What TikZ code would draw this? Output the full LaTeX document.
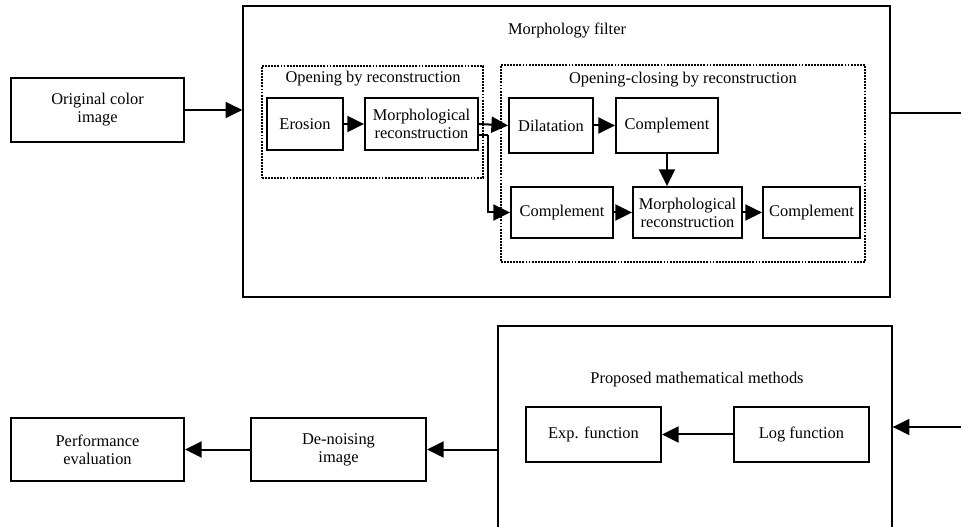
\documentclass[tikz,border=0pt]{standalone}
\usepackage{fontspec}
\setmainfont{Liberation Serif}
\usepackage{tikz}
\usetikzlibrary{arrows.meta,positioning}
\definecolor{lineBlack}{RGB}{0, 0, 0}

\tikzset{
    procBox/.style={draw=lineBlack, line width=1.4pt, inner sep=0pt, align=center},
    outerFrame/.style={draw=lineBlack, line width=1pt, inner sep=0pt},
    groupFrame/.style={draw=lineBlack, line width=1.5pt, dash pattern=on 1.4pt off 0.9pt, inner sep=0pt},
    frameTitle/.style={inner sep=0pt},
    flowArrow/.style={draw=lineBlack, line width=1.5pt, -{Triangle[length=12.5pt, width=12pt]}},
    flowLine/.style={draw=lineBlack, line width=1.5pt}
}

\begin{document}
\begin{tikzpicture}[x=0.75pt, y=-0.75pt, font=\fontsize{12.3pt}{13.5pt}\selectfont]
    \useasboundingbox (0,0) rectangle (961,527);

    % outer frames
    \node[outerFrame, minimum width=485.25pt, minimum height=218.25pt] (morph) at (566.5,151.5) {};
    \node[frameTitle] (morphTitle) at (567,31) {Morphology filter};
    \node[outerFrame, minimum width=295.5pt, minimum height=156pt] (proposed) at (695,430) {};
    \node[frameTitle] (proposedTitle) at (697,380) {Proposed mathematical methods};

    % dotted groups
    \node[groupFrame, minimum width=165.75pt, minimum height=84pt] (openGroup) at (372.5,122) {};
    \node[frameTitle] (openTitle) at (373,79) {Opening by reconstruction};
    \node[groupFrame, minimum width=273pt, minimum height=147.75pt] (ocGroup) at (683,163.5) {};
    \node[frameTitle] (ocTitle) at (683,80) {Opening-closing by reconstruction};

    % blocks
    \node[procBox, minimum width=129.75pt, minimum height=48pt] (orig) at (97.5,110) {Original color\\image};
    \node[procBox, minimum width=57pt, minimum height=39pt] (erosion) at (305,124) {Erosion};
    \node[procBox, minimum width=84.75pt, minimum height=39pt] (mrecA) at (421.5,124) {Morphological\\reconstruction};
    \node[procBox, minimum width=63pt, minimum height=41.25pt] (dilat) at (551,125.5) {Dilatation};
    \node[procBox, minimum width=76.5pt, minimum height=41.25pt] (compA) at (667,125.5) {Complement};
    \node[procBox, minimum width=76.5pt, minimum height=38.25pt] (compB) at (562,212.5) {Complement};
    \node[procBox, minimum width=81.75pt, minimum height=38.25pt] (mrecB) at (687.5,212.5) {Morphological\\reconstruction};
    \node[procBox, minimum width=72.75pt, minimum height=38.25pt] (compC) at (811.5,212.5) {Complement};
    \node[procBox, minimum width=101.25pt, minimum height=41.25pt] (expf) at (593.5,434.5) {Exp. function};
    \node[procBox, minimum width=101.25pt, minimum height=41.25pt] (logf) at (801.5,434.5) {Log function};
    \node[procBox, minimum width=131.25pt, minimum height=47.25pt] (denoise) at (338.5,449.5) {De-noising\\image};
    \node[procBox, minimum width=129.75pt, minimum height=47.25pt] (perf) at (97.5,449.5) {Performance\\evaluation};

    % free ends and bends
    \coordinate (branch) at (488,135);
    \coordinate (outRight) at (961,113);
    \coordinate (inRight) at (961,427);

    % connectors
    \draw[flowArrow] (orig) -- (orig -| morph.west);
    \draw[flowArrow] (erosion) -- (mrecA);
    \draw[flowArrow] (mrecA.east) -- (dilat.west);
    \draw[flowLine] (branch -| mrecA.east) -- (branch);
    \draw[flowArrow] (branch) |- (compB.west);
    \draw[flowArrow] (dilat) -- (compA);
    \draw[flowArrow] (compA.south) -- (compA.south |- mrecB.north);
    \draw[flowArrow] (compB) -- (mrecB);
    \draw[flowArrow] (mrecB) -- (compC);
    \draw[flowLine] (outRight -| morph.east) -- (outRight);
    \draw[flowArrow] (inRight) -- (inRight -| proposed.east);
    \draw[flowArrow] (logf) -- (expf);
    \draw[flowArrow] (denoise -| proposed.west) -- (denoise.east);
    \draw[flowArrow] (denoise) -- (perf);
\end{tikzpicture}
\end{document}
